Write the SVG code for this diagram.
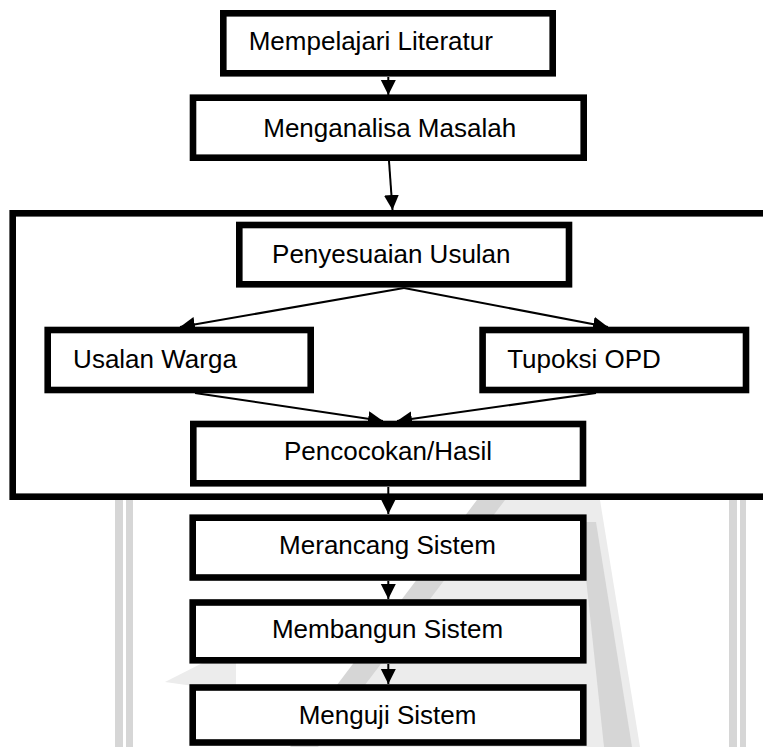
<svg xmlns="http://www.w3.org/2000/svg" width="763" height="747" viewBox="0 0 763 747">
<style>
.box{fill:#fff;stroke:#000;stroke-width:6.6}
.lbl{font-family:"Liberation Sans",Arial,sans-serif;font-size:26px;fill:#000;text-anchor:middle}
.con{stroke:#000;stroke-width:2;fill:none;marker-end:url(#ah)}
.wm1{fill:#d6d6d6}
.wm2{fill:#ececec}
</style>
<defs>
<marker id="ah" markerUnits="userSpaceOnUse" markerWidth="16" markerHeight="16" refX="15" refY="7.5" orient="auto">
<path d="M0,0 L15,7.5 L0,15 z" fill="#000"/>
</marker>
</defs>
<rect width="763" height="747" fill="#fff"/>
<g id="watermark">
<rect class="wm1" x="115" y="500" width="8" height="247"/>
<rect class="wm1" x="126" y="500" width="7" height="247"/>
<rect class="wm1" x="729" y="500" width="8" height="247"/>
<rect class="wm1" x="740" y="500" width="6" height="247"/>
<polygon class="wm2" points="477,500 600,500 640,747 300,747"/>
<polygon class="wm1" points="477,500 505,500 318,747 290,747"/>
<polygon class="wm1" points="580,522 596,522 632,747 604,747"/>
<polygon class="wm2" points="165,682 236,646 236,692"/>
</g>
<g id="container">
<rect class="box" x="12.7" y="213.3" width="765" height="283.4" fill="none"/>
</g>
<g id="connectors">
<line class="con" x1="388.3" y1="77" x2="388.3" y2="95"/>
<line class="con" x1="389" y1="161" x2="392.5" y2="210"/>
<line class="con" x1="404" y1="288" x2="180" y2="327"/>
<line class="con" x1="404" y1="288" x2="608" y2="327"/>
<line class="con" x1="195" y1="393" x2="383" y2="421"/>
<line class="con" x1="596" y1="393" x2="397" y2="421"/>
<line class="con" x1="388.3" y1="487" x2="388.3" y2="514"/>
<line class="con" x1="388.3" y1="581" x2="388.3" y2="599"/>
<line class="con" x1="388.3" y1="664" x2="388.3" y2="684"/>
</g>
<g id="n1">
<rect class="box" x="223.3" y="13.3" width="329.4" height="60"/>
<text class="lbl" x="370.8" y="50">Mempelajari Literatur</text>
</g>
<g id="n2">
<rect class="box" x="193" y="97.7" width="390.7" height="60"/>
<text class="lbl" x="389.7" y="137">Menganalisa Masalah</text>
</g>
<g id="n3">
<rect class="box" x="239.3" y="225" width="329.7" height="59.3"/>
<text class="lbl" x="391.3" y="263.3">Penyesuaian Usulan</text>
</g>
<g id="n4">
<rect class="box" x="47.7" y="330" width="263" height="60"/>
<text class="lbl" x="155" y="368">Usalan Warga</text>
</g>
<g id="n5">
<rect class="box" x="482.6" y="330" width="263.4" height="60"/>
<text class="lbl" x="584" y="368">Tupoksi OPD</text>
</g>
<g id="n6">
<rect class="box" x="193.3" y="424" width="389.7" height="59.3"/>
<text class="lbl" x="388" y="460">Pencocokan/Hasil</text>
</g>
<g id="n7">
<rect class="box" x="192.7" y="517.7" width="390.6" height="59.8"/>
<text class="lbl" x="387.5" y="554">Merancang Sistem</text>
</g>
<g id="n8">
<rect class="box" x="192.7" y="602.5" width="390.6" height="57.8"/>
<text class="lbl" x="387.5" y="638.3">Membangun Sistem</text>
</g>
<g id="n9">
<rect class="box" x="192.7" y="687.5" width="390.6" height="55"/>
<text class="lbl" x="387.5" y="724.3">Menguji Sistem</text>
</g>
</svg>
